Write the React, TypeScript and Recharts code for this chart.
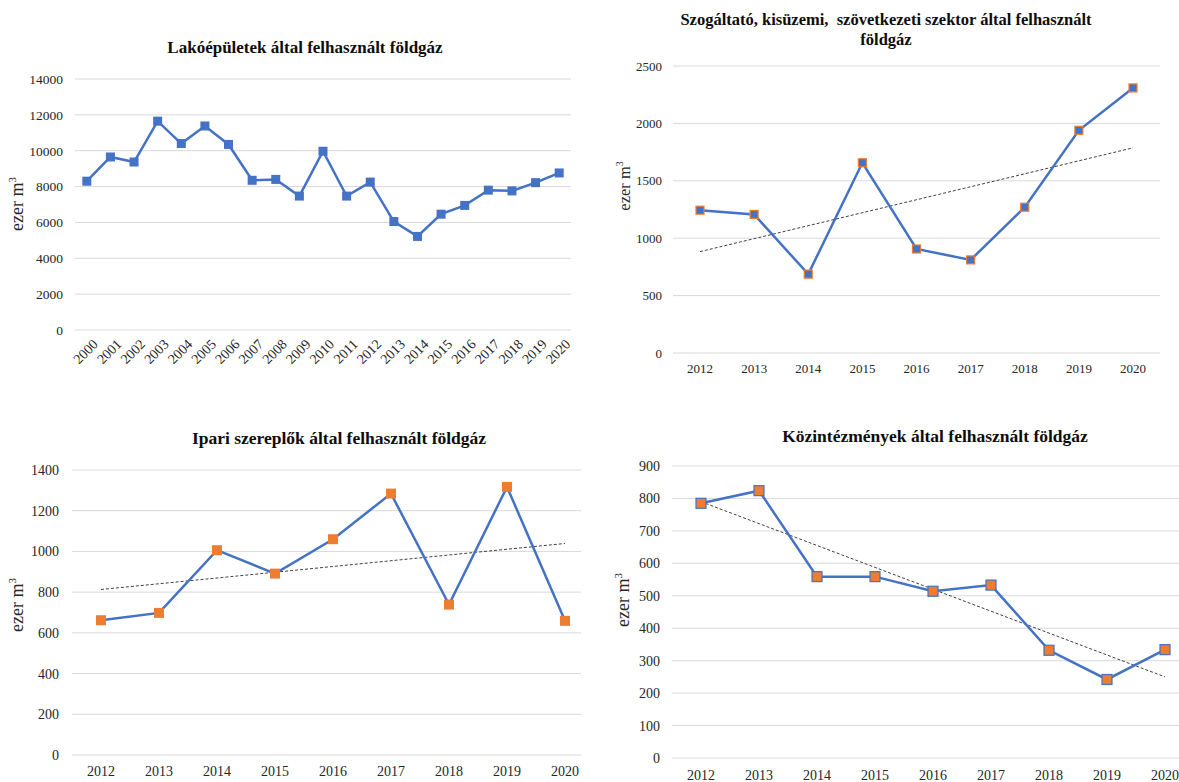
import { CartesianGrid, Line, LineChart, ReferenceLine, XAxis, YAxis } from "recharts";

const BLUE = "#4472C4";
const ORANGE = "#ED7D31";
const GRID = "#d9d9d9";
const TREND = "#404040";
const FONT = '"Liberation Serif", "Times New Roman", serif';

// Lakóépületek 2000–2020
const residentialYears = [
  "2000", "2001", "2002", "2003", "2004", "2005", "2006", "2007", "2008", "2009", "2010",
  "2011", "2012", "2013", "2014", "2015", "2016", "2017", "2018", "2019", "2020",
];
const residentialValues = [
  8300, 9650, 9370, 11650, 10400, 11380, 10350, 8350, 8400, 7470, 9970,
  7470, 8250, 6050, 5220, 6460, 6950, 7800, 7760, 8220, 8760,
];
const residentialTicks = [0, 2000, 4000, 6000, 8000, 10000, 12000, 14000];

// the other three panels share 2012–2020
const years = ["2012", "2013", "2014", "2015", "2016", "2017", "2018", "2019", "2020"];

const serviceValues = [1244, 1207, 687, 1657, 906, 811, 1270, 1940, 2309];
const serviceTicks = [0, 500, 1000, 1500, 2000, 2500];
const serviceTrend = [883, 1787]; // trendline at 2012 and 2020

const industryValues = [662, 698, 1006, 891, 1060, 1284, 739, 1317, 659];
const industryTicks = [0, 200, 400, 600, 800, 1000, 1200, 1400];
const industryTrend = [813, 1039];

const publicValues = [785, 824, 559, 559, 514, 533, 332, 242, 334];
const publicTicks = [0, 100, 200, 300, 400, 500, 600, 700, 800, 900];
const publicTrend = [790, 250];

function squareDot(size: number, fill: string, stroke?: string) {
  return (props: any) => {
    const { cx, cy, index } = props;
    if (cx == null || cy == null) return <g key={`d-${index}`} />;
    return (
      <rect
        key={`d-${index}`}
        x={cx - size / 2}
        y={cy - size / 2}
        width={size}
        height={size}
        fill={fill}
        stroke={stroke ?? "none"}
        strokeWidth={stroke ? 1.2 : 0}
      />
    );
  };
}

function AxisTitle({ x, y, size }: { x: number; y: number; size: number }) {
  return (
    <div
      style={{
        position: "absolute",
        left: x,
        top: y,
        transform: "translate(-50%, -50%) rotate(-90deg)",
        fontFamily: FONT,
        fontSize: size,
        lineHeight: 1,
        color: "#262626",
        whiteSpace: "nowrap",
      }}
    >
      ezer m<sup style={{ fontSize: size * 0.6 }}>3</sup>
    </div>
  );
}

function Title({ x, y, size, lines }: { x: number; y: number; size: number; lines: string[] }) {
  return (
    <div
      style={{
        position: "absolute",
        left: x,
        top: y,
        transform: "translate(-50%, -50%)",
        fontFamily: FONT,
        fontWeight: "bold",
        fontSize: size,
        lineHeight: `${size * 1.2}px`,
        color: "#0d0d0d",
        textAlign: "center",
        whiteSpace: "pre",
      }}
    >
      {lines.map((l) => (
        <div key={l}>{l}</div>
      ))}
    </div>
  );
}

type PanelProps = {
  left: number;
  top: number;
  boxWidth: number;
  boxHeight: number;
  chartWidth: number;
  chartHeight: number;
  margin: { top: number; right: number; left: number; bottom: number };
  yWidth: number;
  yMargin: number;
  xHeight: number;
  xMargin: number;
  pad: number;
  fontSize: number;
  xFontSize?: number;
  cats: string[];
  values: number[];
  yTicks: number[];
  dot: (p: any) => any;
  trend?: number[];
  angled?: boolean;
};

function Panel(p: PanelProps) {
  const data = p.cats.map((year, i) => ({ year, value: p.values[i] }));
  const yMax = p.yTicks[p.yTicks.length - 1];
  return (
    <div
      style={{
        position: "absolute",
        left: p.left,
        top: p.top,
        width: p.boxWidth,
        height: p.boxHeight,
        overflow: "hidden",
      }}
    >
      <LineChart width={p.chartWidth} height={p.chartHeight} data={data} margin={p.margin}>
        <CartesianGrid vertical={false} stroke={GRID} strokeWidth={1} />
        <XAxis
          dataKey="year"
          axisLine={false}
          tickLine={false}
          interval={0}
          height={p.xHeight}
          tickMargin={p.xMargin}
          padding={{ left: p.pad, right: p.pad }}
          angle={p.angled ? -45 : 0}
          textAnchor={p.angled ? "end" : "middle"}
          tick={{
            fill: "#262626",
            fontSize: p.xFontSize ?? p.fontSize,
            fontFamily: FONT,
            dx: p.angled ? 5 : 0,
          }}
        />
        <YAxis
          domain={[0, yMax]}
          ticks={p.yTicks}
          axisLine={false}
          tickLine={false}
          width={p.yWidth}
          tickMargin={p.yMargin}
          tick={{ fill: "#262626", fontSize: p.fontSize, fontFamily: FONT }}
        />
        {p.trend && (
          <ReferenceLine
            segment={[
              { x: p.cats[0], y: p.trend[0] },
              { x: p.cats[p.cats.length - 1], y: p.trend[1] },
            ]}
            stroke={TREND}
            strokeWidth={1}
            strokeDasharray="3 2"
          />
        )}
        <Line
          type="linear"
          dataKey="value"
          stroke={BLUE}
          strokeWidth={2.5}
          dot={p.dot}
          activeDot={false}
          isAnimationActive={false}
        />
      </LineChart>
    </div>
  );
}

export default function App() {
  return (
    <div
      style={{
        position: "absolute",
        left: 0,
        top: 0,
        width: 1179,
        height: 782,
        background: "#fff",
        overflow: "hidden",
      }}
    >
      {/* top left */}
      <Panel
        left={0}
        top={0}
        boxWidth={590}
        boxHeight={400}
        chartWidth={590}
        chartHeight={400}
        margin={{ top: 79, right: 19, left: 0, bottom: 0 }}
        yWidth={75}
        yMargin={6}
        xHeight={70}
        xMargin={2}
        pad={11.8}
        fontSize={13.5}
        xFontSize={14}
        cats={residentialYears}
        values={residentialValues}
        yTicks={residentialTicks}
        dot={squareDot(9, BLUE)}
        angled
      />
      <Title x={305} y={48} size={17} lines={["Lakóépületek által felhasznált földgáz"]} />
      <AxisTitle x={16} y={204} size={18} />

      {/* top right */}
      <Panel
        left={590}
        top={0}
        boxWidth={589}
        boxHeight={400}
        chartWidth={589}
        chartHeight={400}
        margin={{ top: 66, right: 19, left: 0, bottom: 0 }}
        yWidth={83}
        yMargin={5}
        xHeight={47}
        xMargin={5}
        pad={27}
        fontSize={13}
        cats={years}
        values={serviceValues}
        yTicks={serviceTicks}
        dot={squareDot(8, BLUE, ORANGE)}
        trend={serviceTrend}
      />
      <Title
        x={886}
        y={30}
        size={16.5}
        lines={["Szogáltató, kisüzemi,  szövetkezeti szektor által felhasznált", "földgáz"]}
      />
      <AxisTitle x={624} y={186} size={16.5} />

      {/* bottom left */}
      <Panel
        left={0}
        top={400}
        boxWidth={581}
        boxHeight={382}
        chartWidth={600}
        chartHeight={400}
        margin={{ top: 70, right: 6, left: 0, bottom: 0 }}
        yWidth={72}
        yMargin={7}
        xHeight={45}
        xMargin={5}
        pad={29}
        fontSize={14}
        cats={years}
        values={industryValues}
        yTicks={industryTicks}
        dot={squareDot(10, ORANGE)}
        trend={industryTrend}
      />
      <Title x={339} y={438} size={17.5} lines={["Ipari szereplők által felhasznált földgáz"]} />
      <AxisTitle x={16} y={605} size={18} />

      {/* bottom right */}
      <Panel
        left={590}
        top={400}
        boxWidth={589}
        boxHeight={382}
        chartWidth={610}
        chartHeight={400}
        margin={{ top: 66, right: 6, left: 0, bottom: 0 }}
        yWidth={82}
        yMargin={6}
        xHeight={42}
        xMargin={6}
        pad={29}
        fontSize={14}
        cats={years}
        values={publicValues}
        yTicks={publicTicks}
        dot={squareDot(10, ORANGE, BLUE)}
        trend={publicTrend}
      />
      <Title x={935} y={436} size={17.5} lines={["Közintézmények által felhasznált földgáz"]} />
      <AxisTitle x={622} y={600} size={18} />
    </div>
  );
}
